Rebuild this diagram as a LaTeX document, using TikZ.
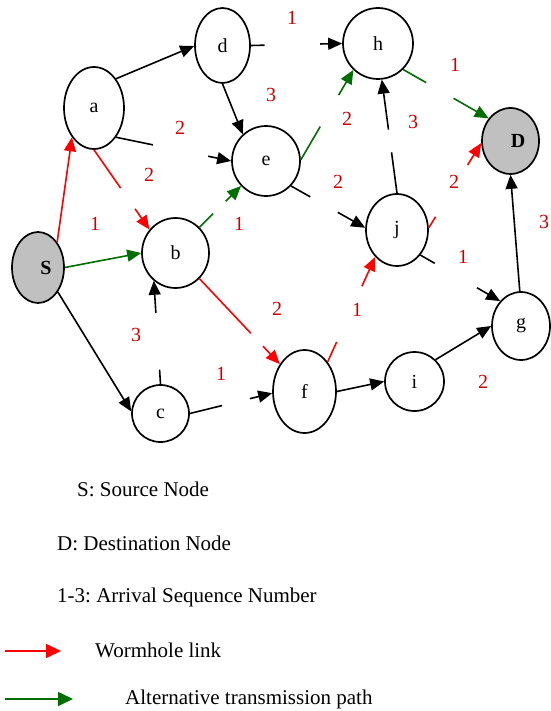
\documentclass[tikz,border=0pt]{standalone}
\usepackage{fontspec}
\setmainfont{Liberation Serif}
\usetikzlibrary{shapes.geometric,arrows.meta,calc}
\definecolor{nodegray}{RGB}{192,192,192}
\definecolor{seqred}{RGB}{204,0,0}
\definecolor{altgreen}{RGB}{0,110,0}
\frenchspacing

\begin{document}
\begin{tikzpicture}[x=1pt,y=-1pt,
  every node/.style={font=\fontsize{20}{24}\selectfont},
  vert/.style={ellipse,draw,line width=1.7pt,inner sep=0pt},
  link/.style={line width=1.6pt},
  tip/.style={-{Triangle[length=14pt,width=12pt]}},
  bigtip/.style={-{Triangle[length=15pt,width=14pt]}},
  seq/.style={text=seqred,inner sep=0pt},
  legend/.style={anchor=west,inner sep=0pt,font=\fontsize{21}{25}\selectfont}]

\useasboundingbox (0,0) rectangle (550,711);

% nodes
\node[vert,fill=nodegray,minimum width=52pt,minimum height=71pt] (S) at (38,267.5) {\hspace*{16pt}\textbf{S}};
\node[vert,minimum width=60pt,minimum height=82pt] (a) at (94,108) {a};
\node[vert,minimum width=55pt,minimum height=75pt] (d) at (222.5,45.5) {d};
\node[vert,minimum width=70pt,minimum height=71pt] (h) at (378,43.5) {h};
\node[vert,minimum width=68pt,minimum height=70pt] (e) at (266,161) {e};
\node[vert,fill=nodegray,minimum width=57pt,minimum height=66pt] (D) at (510.5,141) {\hspace*{15pt}\textbf{D}};
\node[vert,minimum width=67pt,minimum height=70pt] (b) at (175.5,253) {b};
\node[vert,minimum width=62pt,minimum height=72pt] (j) at (397,230) {j};
\node[vert,minimum width=58pt,minimum height=68pt] (g) at (521,326) {g};
\node[vert,minimum width=57pt,minimum height=57pt] (c) at (160.5,413.5) {c};
\node[vert,minimum width=63pt,minimum height=83pt] (f) at (304.5,391.5) {f};
\node[vert,minimum width=59pt,minimum height=59pt] (i) at (414.5,381.5) {i};

% links
\draw[link,tip,red] (S.53) -- (a.233);
\draw[link,red] (a.270) -- ($(a.270)!0.48!(b.138)$);
\draw[link,tip,red] ($(a.270)!0.74!(b.138)$) -- (b.138);
\draw[link,tip] (a.53) -- (d.181);
\draw[link] (a.307) -- ($(a.307)!0.32!(e.180)$);
\draw[link,tip] ($(a.307)!0.80!(e.180)$) -- (e.180);
\draw[link,tip] (d.270) -- (e.131);
\draw[link] (d.0) -- ($(d.0)!0.15!(h.180)$);
\draw[link,tip] ($(d.0)!0.76!(h.180)$) -- (h.180);
\draw[link,tip,altgreen] (S.0) -- (b.180);
\draw[link,tip] (S.309) -- (c.176);
\draw[link,altgreen] (b.47) -- ($(b.47)!0.33!(e.225)$);
\draw[link,tip,altgreen] ($(b.47)!0.63!(e.225)$) -- (e.225);
\draw[link,red] (b.313) -- ($(b.313)!0.64!(f.132)$);
\draw[link,tip,red] ($(b.313)!0.79!(f.132)$) -- (f.132);
\draw[link] (c.90) -- ($(c.90)!0.14!(b.232)$);
\draw[link,tip] ($(c.90)!0.69!(b.232)$) -- (b.232);
\draw[link] (c.0) -- ($(c.0)!0.39!(f.183)$);
\draw[link,tip] ($(c.0)!0.73!(f.183)$) -- (f.183);
\draw[link,altgreen] (e.2) -- ($(e.2)!0.37!(h.227)$);
\draw[link,tip,altgreen] ($(e.2)!0.72!(h.227)$) -- (h.227);
\draw[link] (e.315) -- ($(e.315)!0.26!(j.176)$);
\draw[link,tip] ($(e.315)!0.63!(j.176)$) -- (j.176);
\draw[link] (j.90) -- ($(j.90)!0.36!(h.276)$);
\draw[link,tip] ($(j.90)!0.56!(h.276)$) -- (h.276);
\draw[link,altgreen] (h.314) -- ($(h.314)!0.27!(D.134)$);
\draw[link,tip,altgreen] ($(h.314)!0.59!(D.134)$) -- (D.134);
\draw[link,red] (j.4) -- ($(j.4)!0.13!(D.184)$);
\draw[link,tip,red] ($(j.4)!0.74!(D.184)$) -- (D.184);
\draw[link] (j.313) -- ($(j.313)!0.18!(g.130)$);
\draw[link,tip] ($(j.313)!0.71!(g.130)$) -- (g.130);
\draw[link,red] (f.52) -- ($(f.52)!0.19!(j.231)$);
\draw[link,tip,red] ($(f.52)!0.72!(j.231)$) -- (j.231);
\draw[link,tip] (f.0) -- (i.180);
\draw[link,tip] (i.46) -- (g.180);
\draw[link,tip] (g.92) -- (D.270);

% arrival sequence numbers
\node[seq] (nSa) at (95,224) {1};
\node[seq] (nab) at (149,175) {2};
\node[seq] (nae) at (180,128) {2};
\node[seq] (nde) at (271,95) {3};
\node[seq] (ndh) at (292,18) {1};
\node[seq] (nbe) at (239,224) {1};
\node[seq] (nbf) at (277,309) {2};
\node[seq] (ncb) at (136,335) {3};
\node[seq] (ncf) at (221,374) {1};
\node[seq] (neh) at (347,119) {2};
\node[seq] (nej) at (338,182) {2};
\node[seq] (njh) at (413,122) {3};
\node[seq] (nhD) at (455,65) {1};
\node[seq] (njD) at (454,182) {2};
\node[seq] (njg) at (463,257) {1};
\node[seq] (nfj) at (357,310) {1};
\node[seq] (nig) at (483,382) {2};
\node[seq] (ngD) at (544,222) {3};

% legend
\node[legend] (lgS) at (77,489) {S: Source Node};
\node[legend] (lgD) at (57,543) {D: Destination Node};
\node[legend] (lgN) at (57,597) {1-3: Arrival Sequence Number};
\coordinate (wormA) at (5,651);
\coordinate (wormB) at (61,651);
\draw[link,bigtip,red] (wormA) -- (wormB);
\node[legend] (lgW) at (95,650) {Wormhole link};
\coordinate (altA) at (5,699);
\coordinate (altB) at (73,699);
\draw[link,bigtip,altgreen] (altA) -- (altB);
\node[legend] (lgA) at (125,699) {Alternative transmission path};

\end{tikzpicture}
\end{document}
